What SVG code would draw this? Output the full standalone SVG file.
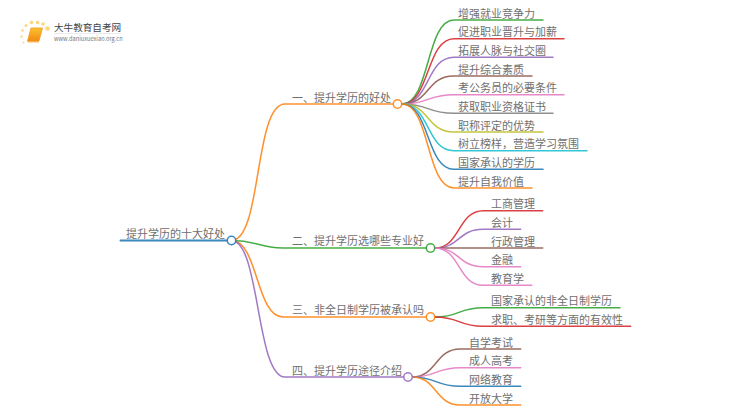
<svg xmlns="http://www.w3.org/2000/svg" width="750" height="410" viewBox="0 0 750 410">
<defs>
<linearGradient id="book" x1="0" y1="0" x2="0" y2="1"><stop offset="0" stop-color="#fcc22e"/><stop offset="1" stop-color="#f08a12"/></linearGradient>
</defs>
<style>
text{font-family:"Noto Sans CJK SC","Liberation Sans",sans-serif;font-size:11px;fill:#707070}
.c{fill:none;stroke-width:1.5;stroke-linecap:round;stroke-opacity:.88}
.n{fill:#fff;stroke-width:1.5;stroke-opacity:.88}
.dot{fill:#fdd77c}
</style>
<rect width="750" height="410" fill="#fff"/>
<g id="logo">
<circle class="dot" cx="47.500" cy="28.500" r="2.300"/><circle class="dot" cx="43" cy="24" r="1.800"/><circle class="dot" cx="37.500" cy="22.500" r="1.800"/><circle class="dot" cx="31.500" cy="22.500" r="1.800"/><circle class="dot" cx="26" cy="25.500" r="1.500"/><circle class="dot" cx="22.500" cy="30.500" r="1.300"/><circle class="dot" cx="21.500" cy="36.500" r="1.200"/><circle class="dot" cx="23.500" cy="42.500" r="1"/>
<path d="M31 28H42.500L39 41H27.500Z" fill="url(#book)" stroke="#ee9a1e" stroke-width="0.800" stroke-linejoin="round"/>
<path d="M27.500 41.800H39" stroke="#f5a73a" stroke-width="1.200"/>
<text x="54" y="31" style="font-size:9.600px;fill:#444">大牛教育自考网</text>
<path d="M54 33.500H121" stroke="#ddd" stroke-width="0.600"/>
<text x="54" y="41" style="font-size:5.700px;fill:#777">www.daniuxuexiao.org.cn</text>
</g>
<g id="connectors">
<path class="c" style="stroke-width:2" stroke="#1f77b4" d="M120.500 240.500H227"/>
<path class="c" stroke="#ff7f0e" d="M231.500 240.500C262 240.500 254 104 285 104H393"/>
<path class="c" stroke="#2ca02c" d="M231.500 240.500C258 240.500 258 248 283 248H426"/>
<path class="c" stroke="#ff7f0e" d="M231.500 240.500C258 240.500 256 317 283 317H426"/>
<path class="c" stroke="#9467bd" d="M231.500 240.500C260 240.500 256 377 285 377H404"/>
<path class="c" stroke="#2ca02c" d="M402 104C430 104 426 20 454 20H543"/>
<path class="c" stroke="#d62728" d="M402 104C430 104 426 38.700 454 38.700H564"/>
<path class="c" stroke="#9467bd" d="M402 104C430 104 426 57.300 454 57.300H553"/>
<path class="c" stroke="#8c564b" d="M402 104C430 104 426 76 454 76H532"/>
<path class="c" stroke="#e377c2" d="M402 104C430 104 426 94.700 454 94.700H564"/>
<path class="c" stroke="#7f7f7f" d="M402 104C430 104 426 113.300 454 113.300H553"/>
<path class="c" stroke="#bcbd22" d="M402 104C430 104 426 132 454 132H543"/>
<path class="c" stroke="#17becf" d="M402 104C430 104 426 150.700 454 150.700H587"/>
<path class="c" stroke="#1f77b4" d="M402 104C430 104 426 169.300 454 169.300H543"/>
<path class="c" stroke="#ff7f0e" d="M402 104C430 104 426 188 454 188H532"/>
<path class="c" stroke="#d62728" d="M435 248C460 248 458 210.700 483 210.700H542.700"/>
<path class="c" stroke="#9467bd" d="M435 248C460 248 458 229.300 483 229.300H520.700"/>
<path class="c" stroke="#8c564b" d="M435 248H542.700"/>
<path class="c" stroke="#e377c2" d="M435 248C460 248 458 266.700 483 266.700H520.700"/>
<path class="c" stroke="#e377c2" d="M435 248C460 248 458 285.300 483 285.300H531.700"/>
<path class="c" stroke="#2ca02c" d="M435 317C460 317 458 307.700 483 307.700H620"/>
<path class="c" stroke="#d62728" d="M435 317C460 317 458 326.300 483 326.300H630.700"/>
<path class="c" stroke="#8c564b" d="M412 377C437 377 435 349 460 349H520.700"/>
<path class="c" stroke="#e377c2" d="M412 377C437 377 435 367.700 460 367.700H520.700"/>
<path class="c" stroke="#1f77b4" d="M412 377C437 377 435 386.300 460 386.300H520.700"/>
<path class="c" stroke="#ff7f0e" d="M412 377C437 377 435 405 460 405H520.700"/>
</g>
<g id="root"><circle class="n" cx="231.500" cy="240.500" r="4.200" stroke="#1f77b4"/><text x="126" y="237.500">提升学历的十大好处</text></g>
<g id="b1"><circle class="n" cx="397.500" cy="104" r="4.200" stroke="#ff7f0e"/><text x="292" y="101.500">一、提升学历的好处</text></g>
<g id="b2"><circle class="n" cx="430.500" cy="248" r="4.200" stroke="#2ca02c"/><text x="292" y="245">二、提升学历选哪些专业好</text></g>
<g id="b3"><circle class="n" cx="430.500" cy="317" r="4.200" stroke="#ff7f0e"/><text x="292" y="314">三、非全日制学历被承认吗</text></g>
<g id="b4"><circle class="n" cx="408" cy="377" r="4.200" stroke="#9467bd"/><text x="292" y="374.500">四、提升学历途径介绍</text></g>
<g id="l1-1"><text x="458" y="17.500">增强就业竞争力</text></g>
<g id="l1-2"><text x="458" y="36">促进职业晋升与加薪</text></g>
<g id="l1-3"><text x="458" y="54.500">拓展人脉与社交圈</text></g>
<g id="l1-4"><text x="458" y="73.500">提升综合素质</text></g>
<g id="l1-5"><text x="458" y="92">考公务员的必要条件</text></g>
<g id="l1-6"><text x="458" y="110.500">获取职业资格证书</text></g>
<g id="l1-7"><text x="458" y="129.500">职称评定的优势</text></g>
<g id="l1-8"><text x="458" y="148">树立榜样，营造学习氛围</text></g>
<g id="l1-9"><text x="458" y="166.500">国家承认的学历</text></g>
<g id="l1-10"><text x="458" y="185.500">提升自我价值</text></g>
<g id="l2-1"><text x="491" y="208">工商管理</text></g>
<g id="l2-2"><text x="491" y="226.500">会计</text></g>
<g id="l2-3"><text x="491" y="245.500">行政管理</text></g>
<g id="l2-4"><text x="491" y="264">金融</text></g>
<g id="l2-5"><text x="491" y="282.500">教育学</text></g>
<g id="l3-1"><text x="491" y="305">国家承认的非全日制学历</text></g>
<g id="l3-2"><text x="491" y="323.500">求职、考研等方面的有效性</text></g>
<g id="l4-1"><text x="469" y="346.500">自学考试</text></g>
<g id="l4-2"><text x="469" y="365">成人高考</text></g>
<g id="l4-3"><text x="469" y="383.500">网络教育</text></g>
<g id="l4-4"><text x="469" y="402.500">开放大学</text></g>
</svg>
